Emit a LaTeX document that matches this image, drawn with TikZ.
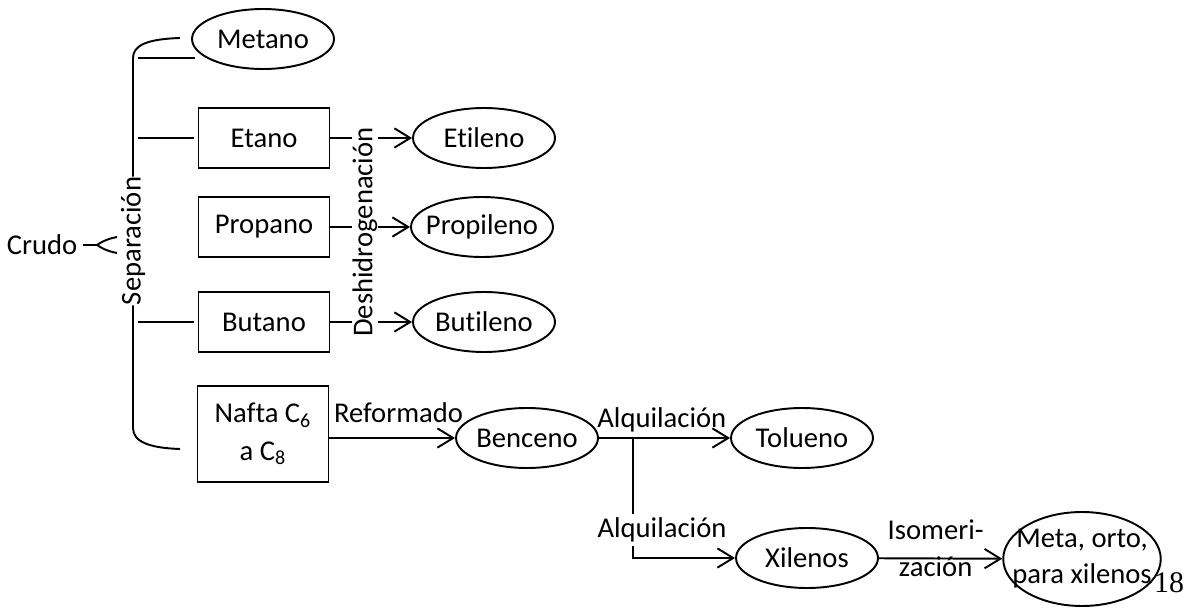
\documentclass[tikz,border=0pt]{standalone}
\usepackage{fontspec}
\setmainfont{Carlito}[Ligatures=NoCommon]
\newfontfamily\pagefont{Liberation Serif}
\usetikzlibrary{shapes.geometric, arrows.meta, positioning, calc}

\begin{document}
\begin{tikzpicture}[
    x=0.02cm, y=-0.02cm,
    every node/.style={font=\fontsize{16.3}{21}\selectfont},
    prod/.style={ellipse, draw, line width=1.1pt, minimum width=2.84cm,
        minimum height=1.2cm, inner xsep=-8pt, inner ysep=0pt, align=center},
    feed/.style={rectangle, draw, line width=1.1pt, minimum width=2.62cm,
        minimum height=1.2cm, align=center},
    lbl/.style={inner sep=0pt},
    ln/.style={line width=1.1pt},
    arr/.style={-{Straight Barb[length=9pt, width=11pt]}, line width=1.1pt}
]
\useasboundingbox (0,0) rectangle (1188,608);

% Crudo and separation
\node (crudo) at (42,245) {Crudo};
\node[lbl, rotate=90] (sep) at (133,241) {Separación};

% Cuts from the crude
\node[prod] (metano) at (263,39) {Metano};
\node[feed] (etano) at (264,138) {Etano};
\node[feed] (propano) at (264,227) {Propano};
\node[feed] (butano) at (264,322) {Butano};
\node[feed, minimum height=1.92cm, font=\fontsize{16.3}{21.5}\selectfont] (nafta) at (263,434) {Nafta C\textsubscript{6}\\a C\textsubscript{8}};

% Olefins
\node[lbl, rotate=90] (desh) at (365,232) {Deshidrogenación};
\node[prod] (etileno) at (484,138) {Etileno};
\node[prod] (propileno) at (482,227) {Propileno};
\node[prod] (butileno) at (484,322) {Butileno};

% Aromatics
\node[prod] (benceno) at (527,438) {Benceno};
\node[prod] (tolueno) at (802,438) {Tolueno};
\node[prod] (xilenos) at (807,558) {Xilenos};
\node[prod, minimum width=3.1cm, minimum height=1.88cm, font=\fontsize{16.3}{20.4}\selectfont] (mox) at (1082,559) {Meta, orto,\\para xilenos};
\node[lbl, inner ysep=2pt] (alq) at (662,530) {Alquilación};

\node[font=\pagefont\fontsize{17}{20}\selectfont, anchor=base, inner sep=0pt] (pg) at (1169,592) {18};

% Brace
\coordinate (tip) at (97,245);
\coordinate (m1) at (195,58);
\draw[ln] (180,38) .. controls (148,39) and (133,45) .. (133,58) -- (sep.east);
\draw[ln] (sep.west) -- (133,428) .. controls (133,442) and (150,448) .. (180,449);
\draw[ln] (crudo.east) -- (tip);
\draw[ln] (117,237) .. controls (106,239) and (100,243) .. (tip) .. controls (100,247) and (106,251) .. (117,253);
\draw[ln, shorten <=0.1cm] (sep |- m1) -- (m1);
\draw[ln, shorten <=0.1cm, shorten >=0.08cm] (sep |- etano) -- (etano.west);
\draw[ln, shorten <=0.1cm, shorten >=0.08cm] (sep |- butano) -- (butano.west);

% Dehydrogenation
\foreach \a/\b in {etano/etileno, propano/propileno, butano/butileno} {
    \draw[ln] (\a.east) -- (\a.east -| desh.north);
    \draw[arr] (\a.east -| desh.south) -- (\b.west);
}

% Reforming and alkylation
\coordinate (br) at (633,438);
\draw[arr] (nafta.east |- benceno) -- node[pos=0.55, anchor=base, yshift=9pt] {Reformado} (benceno.west);
\draw[arr] (benceno) -- node[pos=0.48, anchor=base, yshift=6pt] {Alquilación} (tolueno);
\draw[ln] (br) -- (br |- alq.north);
\draw[arr] (br |- alq.south) |- (xilenos);
\draw[arr] (xilenos) -- node[pos=0.46, anchor=base, yshift=11pt] {Isomeri-}
    node[pos=0.46, anchor=base, yshift=-10pt] {zación} (mox);

\end{tikzpicture}
\end{document}
